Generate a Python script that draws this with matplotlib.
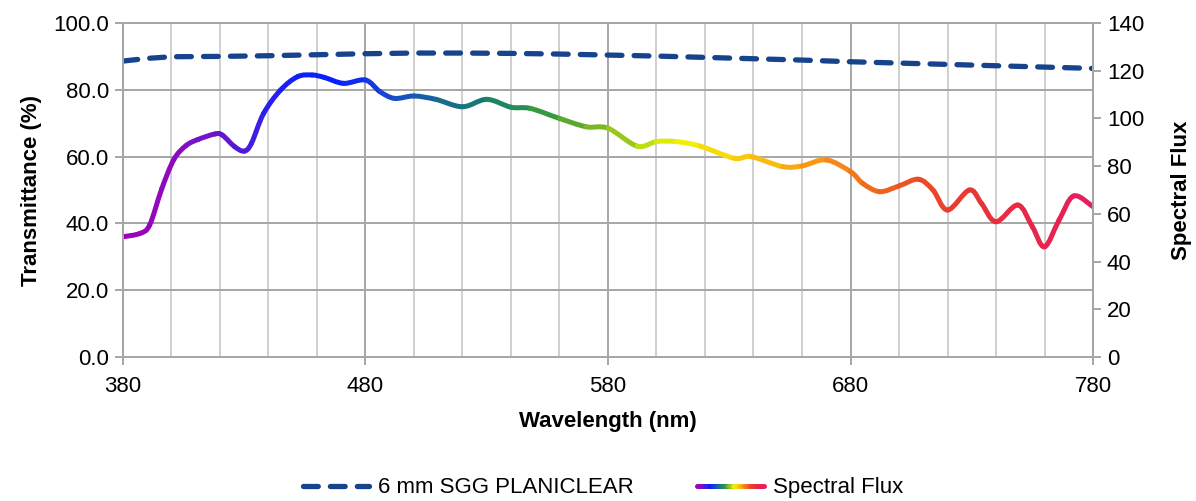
import numpy as np
import matplotlib
matplotlib.use("Agg")
import matplotlib.pyplot as plt
from matplotlib.collections import LineCollection, PathCollection
from matplotlib.colors import LinearSegmentedColormap, Normalize
from matplotlib.legend_handler import HandlerBase
from matplotlib.path import Path
from matplotlib.ticker import FixedLocator

plt.rcParams['font.family'] = ['Liberation Sans', 'DejaVu Sans']

# transmittance of the glass (left axis, %)
trans_wl = [380, 390, 400, 420, 440, 460, 480, 500, 520, 540, 560, 580,
            600, 620, 640, 660, 680, 700, 720, 740, 760, 780]
trans_val = [88.6, 89.4, 89.9, 90.0, 90.2, 90.5, 90.8, 91.0, 91.0, 90.9, 90.7, 90.4,
             90.1, 89.7, 89.3, 88.9, 88.4, 88.0, 87.6, 87.2, 86.8, 86.4]

# spectral flux (right axis)
flux_wl = [380, 387, 391, 396, 401, 406, 411, 418, 421, 426, 430, 433,
           438, 445, 452, 458, 463, 471, 480, 486, 492, 500,
           509, 520, 530, 540, 548, 560, 571, 580, 592, 600,
           608, 618, 632, 639, 652, 660, 670, 680, 685, 692,
           700, 708, 714, 720, 729, 734, 740, 749, 755, 760, 766, 772, 780]
flux_val = [50.4, 51.8, 55.3, 70.5, 82.8, 88.6, 91.2, 93.5, 93.0, 88.2, 86.3, 89.6,
            102.1, 111.9, 117.5, 118.2, 117.2, 114.7, 116.1, 111.2, 108.4, 109.4,
            108.0, 104.9, 108.0, 104.7, 104.2, 100.0, 96.5, 95.9, 88.4, 90.3,
            90.3, 88.4, 83.3, 84.0, 79.8, 80.1, 82.6, 77.7, 72.8, 69.3,
            71.7, 74.5, 70.0, 61.6, 70.0, 64.4, 56.7, 63.7, 54.6, 46.2, 57.4, 67.5, 63.0]

# colour stops of the spectral line
spec_wl = [380, 400, 420, 435, 450, 470, 490, 505, 520, 535, 550, 565, 580, 595,
           610, 630, 650, 670, 690, 710, 730, 760, 780]
spec_col = ['#a000b8', '#8c0cc0', '#6814cc', '#3c1ee4', '#1020f8', '#0a20f8', '#1a48d4',
            '#1660a4', '#177280', '#1a8664', '#2a9448', '#5aa82c', '#86bc22', '#b8dc14',
            '#f4f400', '#f8d40c', '#f8b414', '#f89018', '#f06a1c', '#ec4a28', '#e83634',
            '#e8244c', '#e81e60']

stops = [(w - 380) / 400 for w in spec_wl]
cmap = LinearSegmentedColormap.from_list('spectrum', list(zip(stops, spec_col)))
norm = Normalize(380, 780)


class GradientHandler(HandlerBase):
    def create_artists(self, legend, orig_handle, xdescent, ydescent,
                       width, height, fontsize, trans):
        xs = np.linspace(-xdescent, width - xdescent, 30)
        y = height / 2 - ydescent
        segs = [[(xs[i], y), (xs[i + 1], y)] for i in range(len(xs) - 1)]
        lc = LineCollection(segs, colors=cmap(np.linspace(0, 1, len(segs))),
                            linewidth=3.6, capstyle='round', transform=trans)
        return [lc]


def smooth_paths(x, y):
    # one cubic bezier per data interval, like a "smoothed line" in a spreadsheet
    p = np.column_stack([x, y]).astype(float)
    ext = np.vstack([p[0], p, p[-1]])
    paths = []
    for i in range(len(p) - 1):
        p0, p1, p2, p3 = ext[i], ext[i + 1], ext[i + 2], ext[i + 3]
        c1 = p1 + (p2 - p0) / 6
        c2 = p2 - (p3 - p1) / 6
        paths.append(Path([p1, c1, c2, p2],
                          [Path.MOVETO, Path.CURVE4, Path.CURVE4, Path.CURVE4]))
    return paths


fig = plt.figure(figsize=(11.96, 5.01), dpi=100)
ax = fig.add_axes([0.1028, 0.2874, 0.8111, 0.6667])
ax2 = ax.twinx()

grid_dark = '#a6a6a6'
grid_light = '#cccccc'

ax.set_xlim(380, 780)
ax.set_ylim(0, 100)
ax2.set_ylim(0, 140)
ax.xaxis.set_major_locator(FixedLocator(np.arange(380, 781, 100)))
ax.xaxis.set_minor_locator(FixedLocator(np.arange(380, 781, 20)))
ax.set_yticks(np.arange(0, 101, 20))
ax.set_yticklabels(['%.1f' % v for v in np.arange(0, 101, 20)])
ax2.set_yticks(np.arange(0, 141, 20))

ax.grid(True, which='minor', axis='x', color=grid_light, linewidth=1.3)
ax.grid(True, which='major', axis='x', color=grid_dark, linewidth=1.4)
ax.grid(True, which='major', axis='y', color=grid_dark, linewidth=1.4)
ax.set_axisbelow(True)

for a in (ax, ax2):
    for s in a.spines.values():
        s.set_color(grid_dark)
        s.set_linewidth(1.4)
ax.tick_params(which='major', length=6, width=1.4, color=grid_dark, labelsize=16, pad=4)
ax.tick_params(axis='x', which='major', pad=8)
ax.tick_params(which='minor', length=0)
ax2.tick_params(length=6, width=1.4, color=grid_dark, labelsize=16, pad=4)

ax.plot(trans_wl, trans_val, color='#17438c', linewidth=3.8,
        dashes=(2.8, 2.3), dash_capstyle='round', label='6 mm SGG PLANICLEAR')

mids = (np.array(flux_wl[:-1]) + np.array(flux_wl[1:])) / 2
flux_pc = PathCollection(smooth_paths(flux_wl, flux_val), facecolors='none',
                         edgecolors=cmap(norm(mids)), linewidths=3.6,
                         capstyle='round', joinstyle='round',
                         transform=ax2.transData)
ax2.add_collection(flux_pc, autolim=False)

ax.set_xlabel('Wavelength (nm)', fontsize=16, fontweight='bold', labelpad=10)
ax.set_ylabel('Transmittance (%)', fontsize=16, fontweight='bold', labelpad=8)
ax2.set_ylabel('Spectral Flux', fontsize=16, fontweight='bold', labelpad=19)

dash_line = ax.get_lines()[0]
flux_handle = LineCollection([])
fig.legend([dash_line, flux_handle], ['6 mm SGG PLANICLEAR', 'Spectral Flux'],
           handler_map={LineCollection: GradientHandler()},
           loc='center', bbox_to_anchor=(0.504, 0.026), ncol=2, frameon=False,
           fontsize=16, handlelength=3.0, handletextpad=0.4, columnspacing=2.85)

fig.savefig('out.png', dpi=100)
